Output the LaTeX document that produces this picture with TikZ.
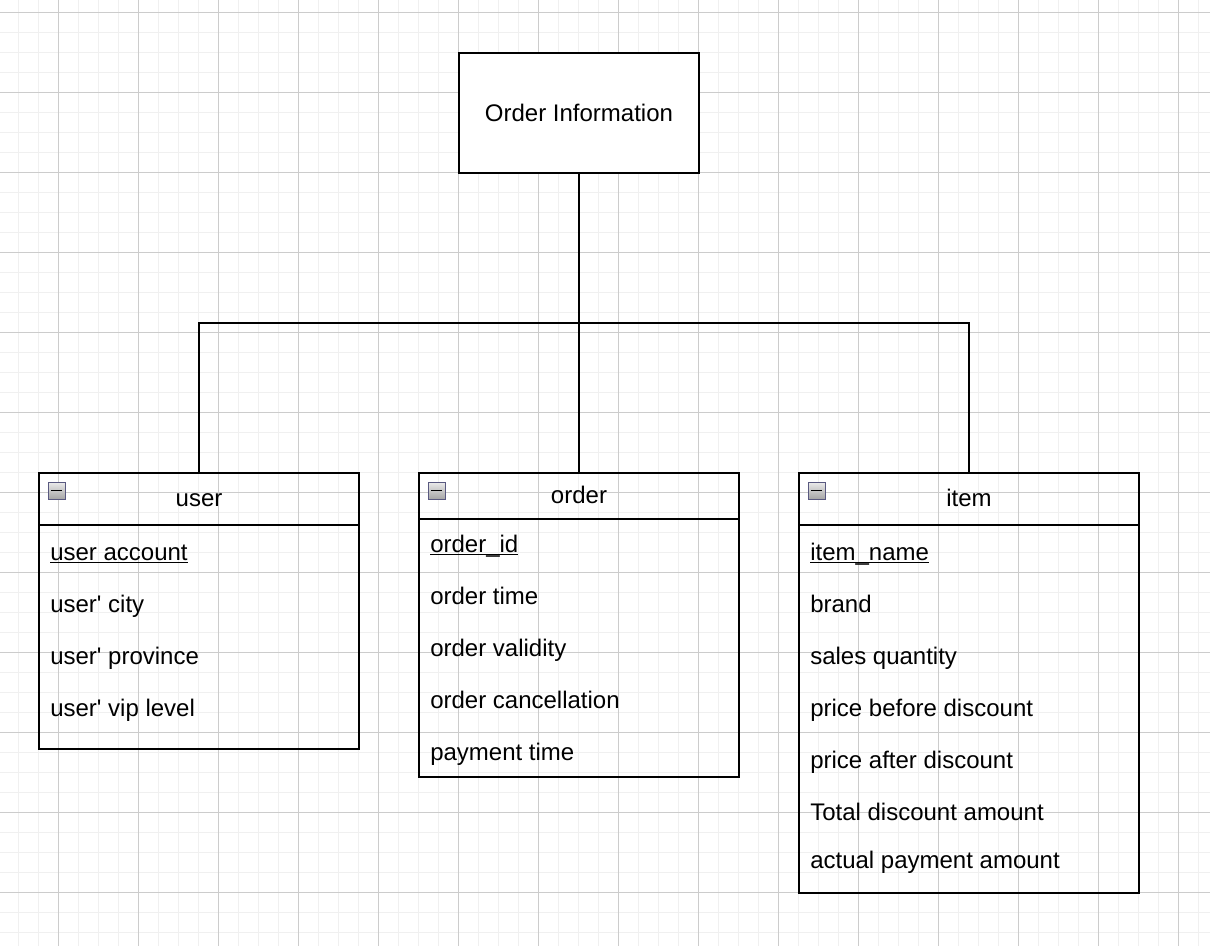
\documentclass[tikz,border=0pt]{standalone}
\usepackage{fontspec}
\setmainfont{Liberation Sans}
\newcommand\myul[1]{\setbox0\hbox{#1}\rlap{\rule[-2.6pt]{\wd0}{1.1pt}}\box0}
\newcommand\aq{\textquotesingle}
\begin{document}
\begin{tikzpicture}[x=0.75pt,y=-0.75pt,
  gminor/.style={draw=black!6,line width=0.75pt},
  gmajor/.style={draw=black!20,line width=0.75pt},
  box/.style={draw=black,line width=1.5pt,rectangle,inner sep=0pt,outer sep=0pt,anchor=north west},
  conn/.style={draw=black,line width=1.5pt},
  fld/.style={anchor=base west,inner sep=0pt,font=\fontsize{18}{21}\selectfont},
  hdr/.style={anchor=base,inner sep=0pt,font=\fontsize{18}{21}\selectfont},
  icon/.style={draw=black!50!blue!30!gray,line width=0.75pt,top color=black!8,bottom color=black!35}]
\useasboundingbox (0,0) rectangle (1210,946);
\fill[white] (0,0) rectangle (1210,946);
% grid
\foreach \x in {18,38,...,1210} \draw[gminor] (\x,0) -- (\x,946);
\foreach \y in {12,32,...,946} \draw[gminor] (0,\y) -- (1210,\y);
\foreach \x in {58,138,...,1210} \draw[gmajor] (\x,0) -- (\x,946);
\foreach \y in {12,92,...,946} \draw[gmajor] (0,\y) -- (1210,\y);
% boxes
\node[box,fill=white,minimum width=180pt,minimum height=90pt,font=\fontsize{18}{21}\selectfont] (top) at (459,53) {Order Information};
\node[box,minimum width=240pt,minimum height=207pt] (user) at (39,473) {};
\node[box,minimum width=240pt,minimum height=228pt] (order) at (419,473) {};
\node[box,minimum width=255pt,minimum height=315pt] (item) at (799,473) {};
% connectors
\coordinate (j) at (579,323);
\draw[conn] (top.south) -- (order.north);
\draw[conn] (user.north) |- (j) -| (item.north);
% header separators
\draw[conn] (user.west |- 0,525) -- (user.east |- 0,525);
\draw[conn] (order.west |- 0,519) -- (order.east |- 0,519);
\draw[conn] (item.west |- 0,525) -- (item.east |- 0,525);
% icons
\foreach \n/\x in {iu/48,io/428,ii/808}{
  \path[icon] (\x,482) rectangle (\x+17,499);
  \draw[line width=1.1pt] (\x+3,490.5) -- (\x+14,490.5);
}
% headers
\node[hdr] (hu) at (199,506) {user};
\node[hdr] (ho) at (579,503) {order};
\node[hdr] (hi) at (969,506) {item};
% user fields
\node[fld] (u1) at (50,560) {\myul{user account}};
\node[fld] (u2) at (50,612) {user\aq{} city};
\node[fld] (u3) at (50,664) {user\aq{} province};
\node[fld] (u4) at (50,716) {user\aq{} vip level};
% order fields
\node[fld] (o1) at (430,552) {\myul{order\_id}};
\node[fld] (o2) at (430,604) {order time};
\node[fld] (o3) at (430,656) {order validity};
\node[fld] (o4) at (430,708) {order cancellation};
\node[fld] (o5) at (430,760) {payment time};
% item fields
\node[fld] (i1) at (810,560) {\myul{item\_name}};
\node[fld] (i2) at (810,612) {brand};
\node[fld] (i3) at (810,664) {sales quantity};
\node[fld] (i4) at (810,716) {price before discount};
\node[fld] (i5) at (810,768) {price after discount};
\node[fld] (i6) at (810,820) {Total discount amount};
\node[fld] (i7) at (810,868) {actual payment amount};
\end{tikzpicture}
\end{document}
